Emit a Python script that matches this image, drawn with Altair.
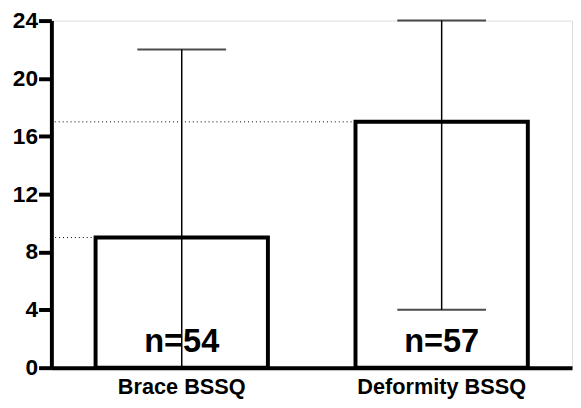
import altair as alt
import pandas as pd

categories = ["Brace BSSQ", "Deformity BSSQ"]
medians = [9, 17]
lows = [0, 4]
highs = [22, 24]
n_labels = ["n=54", "n=57"]
y_ticks = [0, 4, 8, 12, 16, 20, 24]

df = pd.DataFrame({
    "cat": categories,
    "median": medians,
    "lo": lows,
    "hi": highs,
    "n": n_labels,
})

FONT = "Liberation Sans"

x = alt.X(
    "cat:N",
    sort=categories,
    scale=alt.Scale(paddingInner=0.337, paddingOuter=0.17),
    axis=alt.Axis(
        title=None, labelAngle=0, ticks=False, tickSize=0,
        labelFont=FONT, labelFontSize=22, labelFontWeight="bold",
        labelColor="black", labelPadding=9, labelLimit=1000,
        labelOverlap=False, bandPosition=0.5, labelAlign="center",
        domainColor="black", domainWidth=4, labelBaseline="top",
    ),
)
y = alt.Y(
    "median:Q",
    scale=alt.Scale(domain=[0, 24], nice=False, zero=True),
    axis=alt.Axis(
        title=None, values=y_ticks, grid=False,
        labelFont=FONT, labelFontSize=23, labelFontWeight="bold",
        labelColor="black", labelPadding=1,
        tickSize=13, tickWidth=4, tickColor="black",
        domainColor="black", domainWidth=4,
    ),
)

base = alt.Chart(df)

dotted = base.mark_rule(color="black", strokeWidth=1, strokeDash=[1, 3]).encode(
    x=alt.X("cat:N", sort=categories, bandPosition=0),
    x2=alt.value(0),
    y="median:Q",
)

bars = base.mark_bar(fill="white", stroke="black", strokeWidth=4).encode(
    x=x, y=y
)

whisker = base.mark_rule(color="black", strokeWidth=1.5).encode(
    x=alt.X("cat:N", sort=categories),
    y="lo:Q",
    y2="hi:Q",
)

cap_hi = base.mark_tick(color="black", size=90, thickness=2, orient="horizontal").encode(
    x=alt.X("cat:N", sort=categories),
    y="hi:Q",
)
cap_lo = base.mark_tick(color="black", size=90, thickness=2, orient="horizontal").encode(
    x=alt.X("cat:N", sort=categories),
    y="lo:Q",
)

text = base.mark_text(
    font=FONT, fontSize=33, fontWeight="bold", color="black",
    baseline="alphabetic", dy=-16,
).encode(
    x=alt.X("cat:N", sort=categories),
    y=alt.datum(0),
    text="n:N",
)

chart = alt.layer(bars, dotted, whisker, cap_hi, cap_lo, text).properties(
    width=528,
    height=352,
    autosize=alt.AutoSizeParams(type="none"),
    padding={"left": 44, "top": 10, "right": 1, "bottom": 30},
).configure_view(stroke=None).configure(background="white")

chart.save("out.html", embed_options={"renderer": "svg", "actions": False})
